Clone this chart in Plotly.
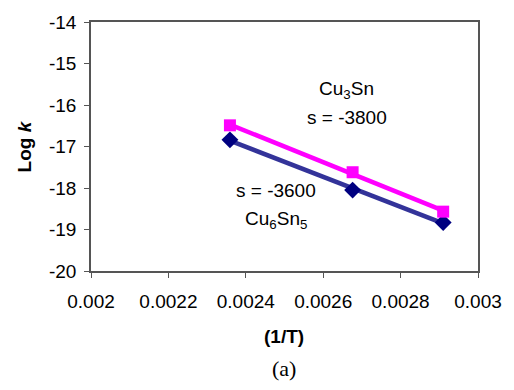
import numpy as np
import plotly.graph_objects as go

inv_T = [0.002359, 0.002676, 0.002910]
cu3sn_logk = [-16.49, -17.62, -18.57]
cu6sn5_logk = [-16.84, -18.05, -18.83]

x_ticks = [0.002, 0.0022, 0.0024, 0.0026, 0.0028, 0.003]
x_tick_labels = ["0.002", "0.0022", "0.0024", "0.0026", "0.0028", "0.003"]
y_ticks = [-20, -19, -18, -17, -16, -15, -14]
y_tick_labels = ["-20", "-19", "-18", "-17", "-16", "-15", "-14"]

FONT = "Liberation Sans, Arial, sans-serif"
FS = 19

fig = go.Figure()

def fit_line(x, y):
    m, b = np.polyfit(x, y, 1)
    xs = [x[0], x[-1]]
    return xs, [m * v + b for v in xs]

fx, fy = fit_line(inv_T, cu6sn5_logk)
fig.add_trace(go.Scatter(x=fx, y=fy, mode="lines",
                         line=dict(color="#333399", width=4.5), showlegend=False))
fx2, fy2 = fit_line(inv_T, cu3sn_logk)
fig.add_trace(go.Scatter(x=fx2, y=fy2, mode="lines",
                         line=dict(color="#FF00FF", width=4.5), showlegend=False))
fig.add_trace(go.Scatter(x=inv_T, y=cu6sn5_logk, mode="markers",
                         marker=dict(symbol="diamond", size=13, color="#000080"),
                         showlegend=False))
fig.add_trace(go.Scatter(x=inv_T, y=cu3sn_logk, mode="markers",
                         marker=dict(symbol="square", size=12, color="#FF00FF"),
                         showlegend=False))

axis_common = dict(showgrid=False, zeroline=False, ticks="outside", ticklen=5,
                   tickcolor="#555555", linecolor="#555555", linewidth=1.5,
                   mirror=True, tickfont=dict(family=FONT, size=FS, color="black"))

fig.update_xaxes(range=[0.002, 0.003], tickvals=x_ticks, ticktext=x_tick_labels,
                 ticklabelstandoff=7, **axis_common)
fig.update_yaxes(range=[-20, -14], tickvals=y_ticks, ticktext=y_tick_labels,
                 ticklabelstandoff=4, **axis_common)

ann = dict(xref="paper", yref="paper", showarrow=False,
           font=dict(family=FONT, size=FS, color="black"))

def pa(px, py, text, **kw):
    # px, py in pixel coordinates of the page
    d = dict(ann)
    d.update(kw)
    fig.add_annotation(x=(px - 91) / 395, y=(271 - py) / 255, text=text,
                       xanchor="center", yanchor="middle", **d)

pa(352, 86, "Cu<sub>3</sub>Sn")
pa(352, 114, "s = -3800")
pa(280, 189, "s = -3600")
pa(280, 219, "Cu<sub>6</sub>Sn<sub>5</sub>")
pa(288, 338, "<b>(1/T)</b>")
pa(288, 371, "(a)", font=dict(family="Liberation Serif, Times New Roman, serif", size=22, color="black"))
pa(23, 143, "<b>Log <i>k</i></b>", textangle=-90)

fig.update_layout(width=514, height=390,
                  margin=dict(l=91, r=28, t=16, b=119),
                  paper_bgcolor="white", plot_bgcolor="white")

fig.write_html("out.html", config={"displayModeBar": False},
               post_script="document.body.style.margin='0';")
